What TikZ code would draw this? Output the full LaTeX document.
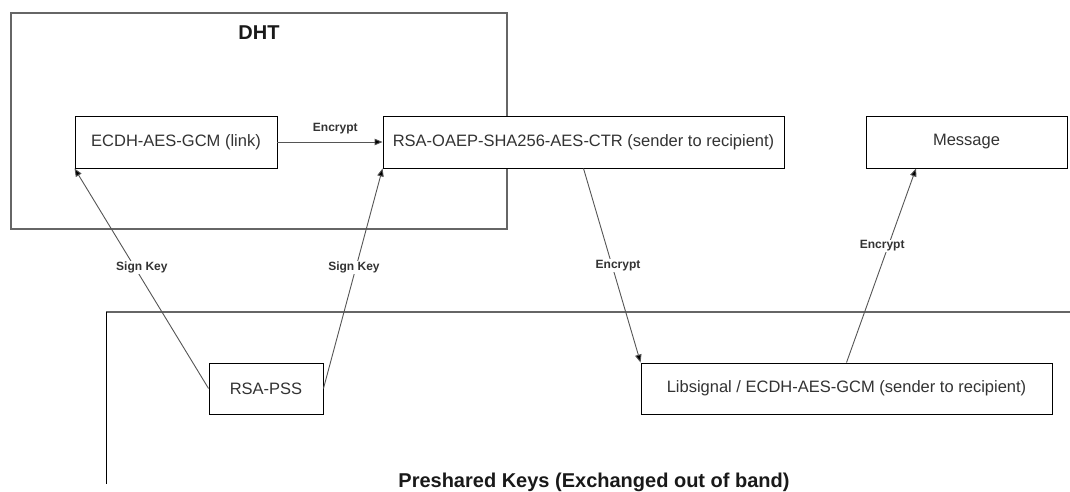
\documentclass[tikz,border=0pt]{standalone}
\usepackage{fontspec}
\setmainfont{Liberation Sans}
\usetikzlibrary{arrows.meta}
\definecolor{txt}{HTML}{333333}
\definecolor{wire}{HTML}{555555}
\definecolor{frame}{HTML}{666666}
\begin{document}
\begin{tikzpicture}[x=1pt,y=-1pt,
  box/.style={draw=black,line width=0.9pt,fill=white,text=txt,inner sep=0pt,
    font=\fontsize{16.5}{19}\selectfont,minimum height=52pt},
  arr/.style={draw=wire,line width=0.9pt,-{Triangle[length=8pt,width=6.5pt,fill=black]}},
  lbl/.style={fill=white,text=txt,inner sep=1pt,font=\bfseries\fontsize{12}{14}\selectfont},
  title/.style={text=black!90,font=\bfseries\fontsize{20}{24}\selectfont,inner sep=0pt}]
\useasboundingbox (0,0) rectangle (1070,491);

% containers
\draw[frame,line width=1.6pt] (11,13) rectangle (507,229);
\node[title] (dhttitle) at (259,33) {DHT};
\draw[frame,line width=1.8pt] (106,312) -- (1070,312);
\draw[black,line width=1pt] (106,312) -- (106,484);
\node[title,anchor=base] (pretitle) at (594,487.5) {Preshared Keys (Exchanged out of band)};

% boxes
\node[box,minimum width=202pt] (ecdh) at (176,142) {ECDH-AES-GCM (link)};
\node[box,minimum width=401pt] (oaep) at (583.5,142) {RSA-OAEP-SHA256-AES-CTR (sender to recipient)};
\node[box,minimum width=201pt] (msg) at (966.5,142) {Message};
\node[box,minimum width=114pt,minimum height=51pt] (pss) at (266,388.5) {RSA-PSS};
\node[box,minimum width=411pt,minimum height=51pt] (lib) at (846.5,388.5) {Libsignal / ECDH-AES-GCM (sender to recipient)};

% connectors
\draw[arr] (ecdh.east) -- node[lbl,fill=none,pos=0.55,yshift=13pt] {Encrypt} (oaep.west);
\draw[arr] (pss.west) -- node[lbl,pos=0.55,xshift=7pt] {Sign Key} (ecdh.south west);
\draw[arr] (pss.east) -- node[lbl,pos=0.55,xshift=-2pt] {Sign Key} (oaep.south west);
\draw[arr] (oaep.south) -- node[lbl,pos=0.5,xshift=6pt] {Encrypt} (lib.north west);
\draw[arr] (lib.north) -- node[lbl,pos=0.6,xshift=-6pt] {Encrypt} ([xshift=-50.5pt]msg.south);
\end{tikzpicture}
\end{document}
